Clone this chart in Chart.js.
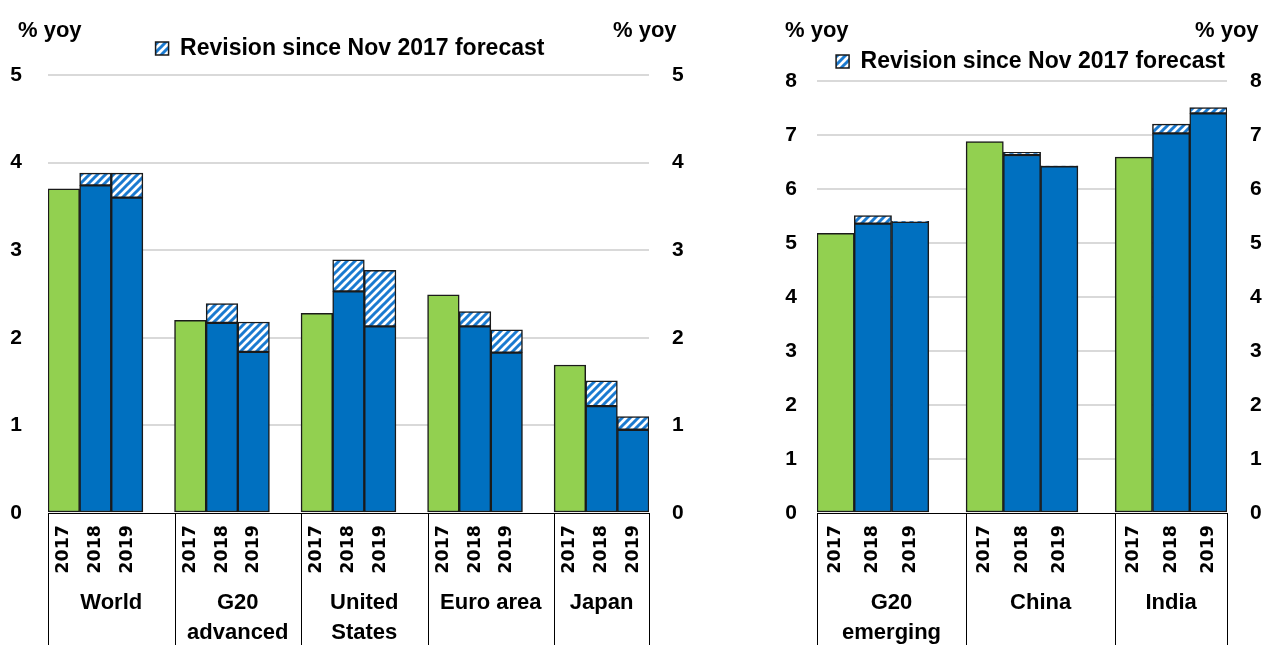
<!DOCTYPE html>
<html>
<head>
<meta charset="utf-8">
<script src="https://cdn.jsdelivr.net/npm/chart.js@4.4.1/dist/chart.umd.min.js"></script>
<style>
  html, body { margin: 0; padding: 0; background: #fff; overflow: hidden; }
  #left { position: absolute; left: 0; top: 0; }
  #right { position: absolute; left: 765px; top: 0; }
</style>
</head>
<body>
<canvas id="left" width="700" height="645"></canvas>
<canvas id="right" width="497" height="645"></canvas>
<script>
// datos (% yoy)
const years = ["2017", "2018", "2019"];

const leftGroups = ["World", ["G20", "advanced"], ["United", "States"], "Euro area", "Japan"];
const leftEst2017 = [3.7, 2.2, 2.28, 2.49, 1.69];
const leftPrev2018 = [3.74, 2.17, 2.53, 2.13, 1.22];
const leftPrev2019 = [3.6, 1.84, 2.13, 1.83, 0.95];
const leftRev2018 = [0.14, 0.22, 0.36, 0.17, 0.29];
const leftRev2019 = [0.28, 0.34, 0.64, 0.26, 0.15];

const rightGroups = [["G20", "emerging"], "China", "India"];
const rightEst2017 = [5.18, 6.88, 6.59];
const rightPrev2018 = [5.36, 6.63, 7.03];
const rightPrev2019 = [5.39, 6.42, 7.4];
const rightRev2018 = [0.15, 0.05, 0.17];
const rightRev2019 = [0.01, 0.01, 0.11];

const GREEN = "#92d050";
const BLUE = "#0070c0";
const EDGE = "#1a1a1a";
const FONT = "'Liberation Sans', Arial, sans-serif";

// rayado azul/blanco para la revision
function hatch() {
  const c = document.createElement("canvas");
  c.width = 8; c.height = 8;
  const g = c.getContext("2d");
  g.fillStyle = "#fff";
  g.fillRect(0, 0, 8, 8);
  g.strokeStyle = "#1a7ad0";
  g.lineWidth = 3;
  g.beginPath();
  g.moveTo(-4, 4); g.lineTo(4, -4);
  g.moveTo(0, 8); g.lineTo(8, 0);
  g.moveTo(4, 12); g.lineTo(12, 4);
  g.stroke();
  return g.createPattern(c, "repeat");
}
const HATCH = hatch();

function buildSeries(groups, est, prev18, prev19, rev18, rev19) {
  const labels = [], base = [], rev = [], colors = [], starts = [];
  groups.forEach((g, i) => {
    starts.push(labels.length);
    labels.push(...years);
    base.push(est[i], prev18[i], prev19[i]);
    rev.push(null, rev18[i], rev19[i]);
    colors.push(GREEN, BLUE, BLUE);
    if (i < groups.length - 1) {
      labels.push("");
      base.push(null);
      rev.push(null);
      colors.push(BLUE);
    }
  });
  return { labels, base, rev, colors, starts };
}

// ajusta espacio bajo la leyenda y su posicion horizontal
const legendSpace = {
  id: "legendSpace",
  afterInit(chart, args, opts) {
    const lg = chart.legend;
    if (!lg) return;
    const fit = lg.fit;
    lg.fit = function () { fit.call(this); this.height += opts.extra || 0; };
  },
  afterLayout(chart, args, opts) {
    const lg = chart.legend;
    if (!lg || !opts.shift) return;
    lg.left += opts.shift;
    lg.right += opts.shift;
  }
};

// cajas de grupos bajo el eje + "% yoy"
const groupBoxes = {
  id: "groupBoxes",
  afterDraw(chart, args, opts) {
    const { ctx, chartArea } = chart;
    const x = chart.scales.x;
    const n = chart.data.labels.length;
    const slot = (chartArea.right - chartArea.left) / n;
    const edges = opts.starts.map(s => x.getPixelForValue(s) - slot / 2);
    edges.push(chartArea.right);
    ctx.save();
    ctx.strokeStyle = "#000";
    ctx.lineWidth = 1;
    edges.forEach(px => {
      const p = Math.round(px) + 0.5;
      ctx.beginPath();
      ctx.moveTo(p, chartArea.bottom);
      ctx.lineTo(p, chart.height);
      ctx.stroke();
    });
    ctx.fillStyle = "#000";
    ctx.font = "bold 22px " + FONT;
    ctx.textAlign = "center";
    ctx.textBaseline = "middle";
    opts.groups.forEach((g, i) => {
      const cx = (edges[i] + edges[i + 1]) / 2;
      const lines = Array.isArray(g) ? g : [g];
      lines.forEach((t, j) => ctx.fillText(t, cx, 603 + j * 30));
    });
    ctx.textAlign = "left";
    ctx.fillText("% yoy", opts.unitLeft, 31);
    ctx.fillText("% yoy", opts.unitRight, 31);
    ctx.restore();
  }
};

function makeChart(el, s, cfg) {
  return new Chart(el, {
    type: "bar",
    data: {
      labels: s.labels,
      datasets: [
        { label: "Outturn / Nov 2017 forecast", data: s.base, backgroundColor: s.colors,
          borderColor: EDGE, borderWidth: 1.5, borderSkipped: false,
          barPercentage: 1, categoryPercentage: 1, yAxisID: "y" },
        { label: "Revision since Nov 2017 forecast", data: s.rev, backgroundColor: HATCH,
          borderColor: EDGE, borderWidth: 1.5, borderSkipped: false,
          barPercentage: 1, categoryPercentage: 1, yAxisID: "y" }
      ]
    },
    options: {
      responsive: false,
      animation: false,
      events: [],
      layout: { padding: { top: cfg.padTop } },
      scales: {
        x: {
          stacked: true,
          grid: { display: false },
          border: { display: true, color: "#000", width: 1 },
          ticks: { autoSkip: false, minRotation: 90, maxRotation: 90, padding: 4, color: "#000",
                   font: { family: "'DejaVu Sans', sans-serif", size: 17.5, weight: "bold" } },
          afterFit: sc => { sc.height = 132; }
        },
        y: {
          stacked: true, min: 0, max: cfg.max,
          ticks: { stepSize: 1, padding: cfg.leftPad, color: "#000",
                   font: { family: FONT, size: 21, weight: "bold" } },
          grid: { drawTicks: false, lineWidth: 2,
                  color: c => c.tick && c.tick.value === 0 ? "rgba(0,0,0,0)" : "#d9d9d9" },
          border: { display: false },
          afterFit: sc => { sc.width = cfg.leftW; }
        },
        y2: {
          position: "right", min: 0, max: cfg.max,
          ticks: { stepSize: 1, padding: 23, color: "#000",
                   font: { family: FONT, size: 21, weight: "bold" } },
          grid: { display: false, drawTicks: false },
          border: { display: false },
          afterFit: sc => { sc.width = cfg.rightW; }
        }
      },
      plugins: {
        legend: {
          position: "top",
          labels: {
            color: "#000", boxWidth: 13, boxHeight: 13, padding: 4,
            font: { family: FONT, size: 23, weight: "bold" },
            filter: item => item.datasetIndex === 1
          }
        },
        tooltip: { enabled: false },
        legendSpace: { extra: cfg.extra, shift: cfg.shift || 0 },
        groupBoxes: { starts: s.starts, groups: cfg.groups, unitLeft: cfg.unitLeft, unitRight: cfg.unitRight }
      }
    },
    plugins: [legendSpace, groupBoxes]
  });
}

const leftSeries = buildSeries(leftGroups, leftEst2017, leftPrev2018, leftPrev2019, leftRev2018, leftRev2019);
const rightSeries = buildSeries(rightGroups, rightEst2017, rightPrev2018, rightPrev2019, rightRev2018, rightRev2019);

makeChart(document.getElementById("left"), leftSeries, {
  max: 5, padTop: 33, extra: 5, leftW: 48, leftPad: 26, rightW: 51,
  groups: leftGroups, unitLeft: 18, unitRight: 613
});

makeChart(document.getElementById("right"), rightSeries, {
  max: 8, padTop: 46, extra: -2, shift: 17, leftW: 52, leftPad: 20, rightW: 35,
  groups: rightGroups, unitLeft: 20, unitRight: 430
});
</script>
</body>
</html>
